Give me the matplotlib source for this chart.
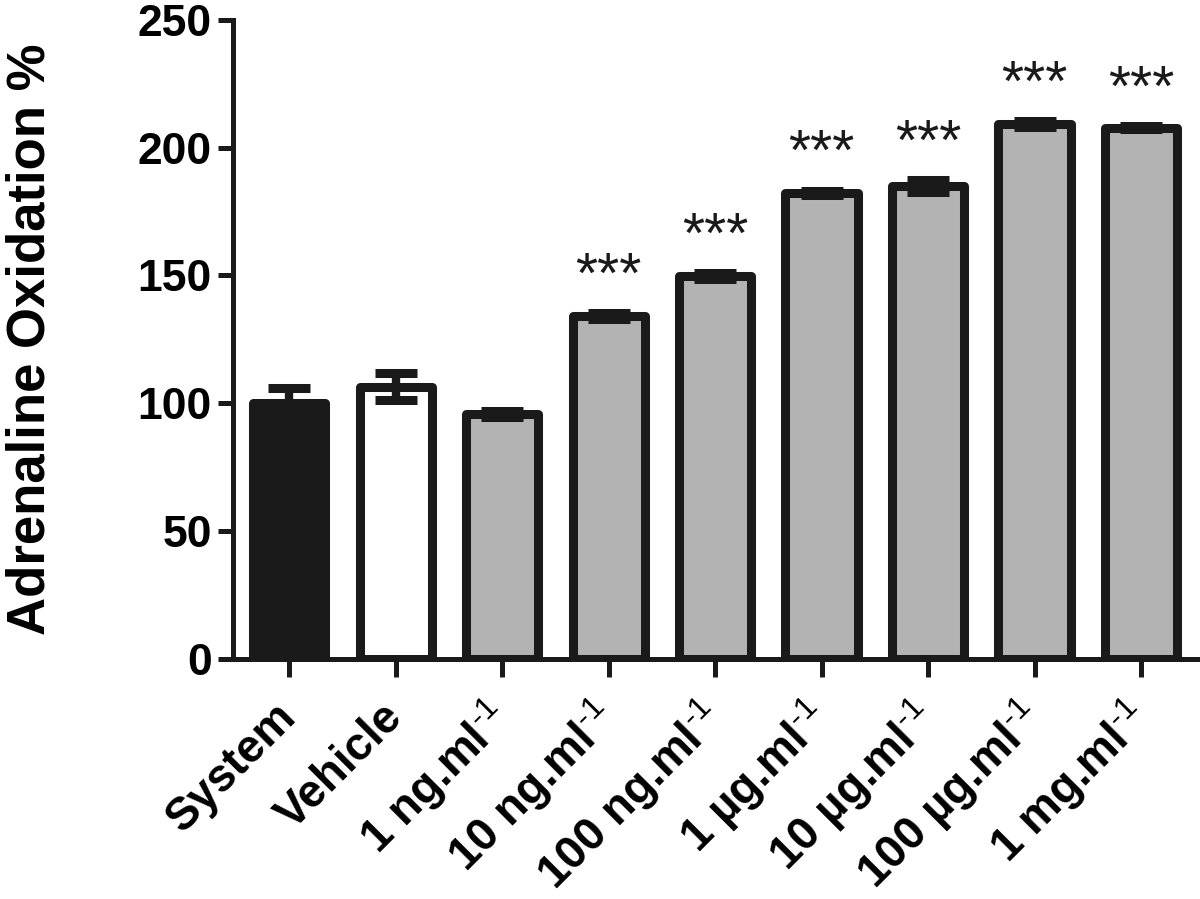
from matplotlib import pyplot as plt
import numpy as np

# Data.
groups = ['System', 'Vehicle', '1 ng.ml$^{\\text{-1}}$', '10 ng.ml$^{\\text{-1}}$',
          '100 ng.ml$^{\\text{-1}}$', '1 µg.ml$^{\\text{-1}}$', '10 µg.ml$^{\\text{-1}}$',
          '100 µg.ml$^{\\text{-1}}$', '1 mg.ml$^{\\text{-1}}$']
means = [100.0, 106.5, 95.8, 134.2, 149.8, 182.4, 185.0, 209.3, 207.8]
sems = [5.8, 5.4, 1.2, 1.2, 1.2, 0.8, 2.4, 1.2, 0.5]
signif = ['', '', '', '***', '***', '***', '***', '***', '***']
fills = ['#1a1a1a', 'white', '#b3b3b3', '#b3b3b3', '#b3b3b3', '#b3b3b3', '#b3b3b3', '#b3b3b3', '#b3b3b3']

plt.rcParams['font.family'] = ['Liberation Sans', 'DejaVu Sans']
plt.rcParams['mathtext.fontset'] = 'custom'
plt.rcParams['mathtext.bf'] = 'Liberation Sans:bold'
plt.rcParams['mathtext.rm'] = 'Liberation Sans'

fig = plt.figure(figsize=(12, 8.99), dpi=100)
ax = fig.add_axes([0.194, 0.267, 0.804, 0.711])

x = np.arange(len(groups))
ax.bar(x, means, width=0.68, color=fills, edgecolor='#1a1a1a', linewidth=6.5,
       joinstyle='round', zorder=2)
ax.errorbar(x, means, yerr=sems, fmt='none', ecolor='#1a1a1a', elinewidth=6,
            capsize=15, capthick=6.5, zorder=3)

# significance stars
for xi, m, s, lab in zip(x, means, sems, signif):
    if lab:
        ax.text(xi, m + s + 8, lab, ha='center', va='baseline', fontsize=41, color='#1a1a1a')

ax.set_xlim(-0.53, 8.53)
ax.set_ylim(0, 250)
ax.set_yticks([0, 50, 100, 150, 200, 250])
ax.set_xticks(x)
ax.set_xticklabels(groups, rotation=45, ha='right', va='center', rotation_mode='anchor',
                   fontsize=33, fontweight='bold')
for lbl in ax.get_yticklabels():
    lbl.set_fontweight('bold')
ax.tick_params(axis='y', labelsize=32, length=11, width=3.6, direction='out', color='#1a1a1a', pad=4)
ax.tick_params(axis='x', length=13, width=3.6, direction='out', color='#1a1a1a', pad=24)
ax.set_ylabel('Adrenaline Oxidation %', fontsize=38, fontweight='bold', labelpad=59)

for side in ['top', 'right']:
    ax.spines[side].set_visible(False)
for side in ['left', 'bottom']:
    ax.spines[side].set_linewidth(3.6)
    ax.spines[side].set_color('#1a1a1a')

plt.savefig('out.png', dpi=100)
